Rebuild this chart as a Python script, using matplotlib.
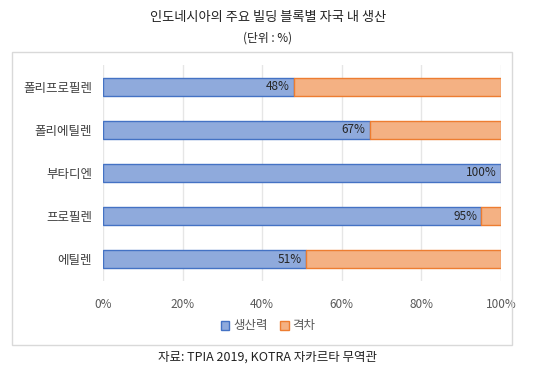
import matplotlib.pyplot as plt
from matplotlib.patches import Rectangle

plt.rcParams['font.family'] = ['Noto Sans CJK KR', 'DejaVu Sans']

categories = ["폴리프로필렌", "폴리에틸렌", "부타디엔", "프로필렌", "에틸렌"]
capacity = [48, 67, 100, 95, 51]
gap = [52, 33, 0, 5, 49]
xticks = [0, 20, 40, 60, 80, 100]

fig = plt.figure(figsize=(5.36, 3.77), dpi=100)
fig.patches.append(Rectangle((12 / 536, 1 - 345 / 377), 500 / 536, 293 / 377,
                             transform=fig.transFigure, fill=False,
                             edgecolor="#d9d9d9", linewidth=1))
ax = fig.add_axes([103 / 536, 1 - 281 / 377, 398 / 536, 216 / 377])

ypos = list(range(len(categories)))[::-1]
ax.barh(ypos, capacity, height=0.42, color="#8faadc", edgecolor="#4472c4", linewidth=1,
        label="생산력", zorder=3)
ax.barh(ypos, gap, left=capacity, height=0.42, color="#f4b183", edgecolor="#ed7d31",
        linewidth=1, label="격차", zorder=3)

for y, v in zip(ypos, capacity):
    ax.text(v - 1, y, "{}%".format(v), ha="right", va="center", fontsize=8.5,
            color="#262626", zorder=4)

ax.set_xlim(0, 100)
ax.set_ylim(-0.5, 4.5)
ax.set_xticks(xticks)
ax.set_xticklabels(["{}%".format(t) for t in xticks], fontsize=8.5, color="#595959")
ax.set_yticks(ypos)
ax.set_yticklabels(categories, fontsize=9, color="#404040")
ax.tick_params(length=0, pad=8)
ax.tick_params(axis="x", pad=12)
ax.grid(axis="x", color="#e6e6e6", linewidth=1, zorder=0)
for s in ax.spines.values():
    s.set_visible(False)

leg = fig.legend(loc="center", bbox_to_anchor=(0.5, 1 - 326 / 377), ncol=2, frameon=False,
                 fontsize=9, handlelength=0.7, handleheight=0.7, handletextpad=0.3,
                 columnspacing=1.0)
for t in leg.get_texts():
    t.set_color("#595959")

fig.text(0.5, 1 - 17 / 377, "인도네시아의 주요 빌딩 블록별 자국 내 생산", ha="center", va="center",
         fontsize=9.5, color="#222222")
fig.text(0.5, 1 - 38 / 377, "(단위 : %)", ha="center", va="center", fontsize=8.5, color="#222222")
fig.text(0.5, 1 - 357 / 377, "자료: TPIA 2019, KOTRA 자카르타 무역관", ha="center", va="center",
         fontsize=9, color="#222222")

fig.savefig("out.png", dpi=100)
